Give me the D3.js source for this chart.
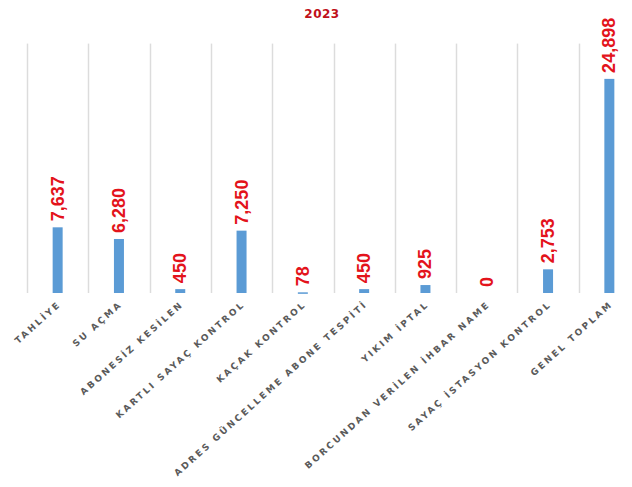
<!DOCTYPE html>
<html><head><meta charset="utf-8">
<script src="https://cdn.jsdelivr.net/npm/d3@7"></script>
<style>body{margin:0;background:#fff}</style>
</head><body>
<script>
const categories = ["TAHLİYE","SU AÇMA","ABONESİZ KESİLEN","KARTLI SAYAÇ KONTROL","KAÇAK KONTROL","ADRES GÜNCELLEME ABONE TESPİTİ","YIKIM İPTAL","BORCUNDAN VERİLEN İHBAR NAME","SAYAÇ İSTASYON KONTROL","GENEL TOPLAM"];
const values = [7637, 6280, 450, 7250, 78, 450, 925, 0, 2753, 24898];
const title = "2023";

const W = 632, H = 487;
const svg = d3.select("body").append("svg").attr("width", W).attr("height", H);
const x = d3.scaleBand().domain(categories).range([27, 640]).padding(0);
const y = d3.scaleLinear().domain([0, 30000]).range([293, 35]);

svg.append("g").selectAll("line").data(categories).join("line")
  .attr("x1", d => Math.round(x(d)) + 0.5).attr("x2", d => Math.round(x(d)) + 0.5)
  .attr("y1", y(29000)).attr("y2", y(0))
  .attr("stroke", "#dcdcdc").attr("stroke-width", 1.5);

const bw = 10;
svg.append("g").selectAll("rect").data(values).join("rect")
  .attr("x", (d, i) => x(categories[i]) + x.bandwidth() / 2 - bw / 2)
  .attr("y", d => y(d)).attr("width", bw)
  .attr("height", d => Math.max(y(0) - y(d), d > 0 ? 1.5 : 0))
  .attr("fill", "#5b9bd5");

const fmt = d3.format(",");
svg.append("g").selectAll("text").data(values).join("text")
  .attr("transform", (d, i) => `translate(${x(categories[i]) + x.bandwidth() / 2 + 6},${y(d) - 6}) rotate(-90)`)
  .attr("font-family", "Liberation Sans, Arial, sans-serif")
  .attr("font-weight", "bold").attr("font-size", 18)
  .attr("fill", "#e3131b")
  .text(d => fmt(d));

svg.append("g").selectAll("text").data(categories).join("text")
  .attr("transform", d => `translate(${x(d) + x.bandwidth() / 2 + 4},${305}) rotate(-42)`)
  .attr("text-anchor", "end")
  .attr("font-family", "DejaVu Sans, sans-serif")
  .attr("font-weight", "bold").attr("font-size", 9)
  .attr("letter-spacing", 2.4)
  .attr("fill", "#5a5a5a")
  .text(d => d);

svg.append("text").attr("x", 322).attr("y", 18).attr("text-anchor", "middle")
  .attr("font-family", "DejaVu Sans, sans-serif").attr("font-weight", "bold")
  .attr("font-size", 12).attr("letter-spacing", 0.5).attr("fill", "#c0101a").text(title);
</script>
</body></html>
